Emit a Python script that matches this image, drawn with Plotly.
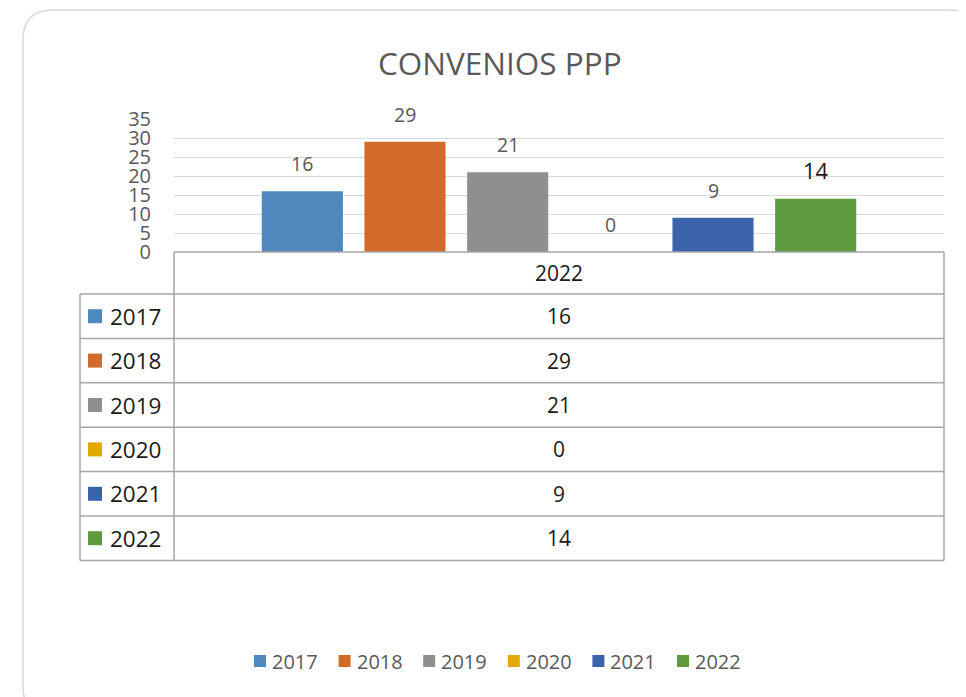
import plotly.graph_objects as go

# ---- data ----
CATEGORY = "2022"
YEARS = ["2017", "2018", "2019", "2020", "2021", "2022"]
VALUES = [16, 29, 21, 0, 9, 14]
COLORS = ["#4f88bd", "#d26b2a", "#8f8f8f", "#e2a900", "#3b63ab", "#5f9a3e"]
TITLE = "CONVENIOS PPP"

# the page body has an 8px margin: figure sized to fit the 966x697 window
OFF = 8
W, H = 966 - OFF, 697 - OFF
FONT = "Open Sans"

def px(x):  # window pixel -> paper
    return (x - OFF) / W

def py(y):
    return 1 - (y - OFF) / H

# plot area in window pixels
PL, PR, PT, PB = 174, 944, 119, 252
BARGAP, BARGROUPGAP = 0.2, 0.21

fig = go.Figure()
for yr, v, c in zip(YEARS, VALUES, COLORS):
    fig.add_trace(go.Bar(x=[CATEGORY], y=[v], name=yr, marker=dict(color=c, line=dict(width=0)),
                         hoverinfo="name+y", showlegend=False))

shapes = []
annotations = []

# outer rounded border
x0, y0, x1, y1, r = 23, 10, 980, 716, 30
path = (f"M {px(x0)},{py(y0 + r)} Q {px(x0)},{py(y0)} {px(x0 + r)},{py(y0)} "
        f"L {px(x1 - r)},{py(y0)} Q {px(x1)},{py(y0)} {px(x1)},{py(y0 + r)} "
        f"L {px(x1)},{py(y1 - r)} Q {px(x1)},{py(y1)} {px(x1 - r)},{py(y1)} "
        f"L {px(x0 + r)},{py(y1)} Q {px(x0)},{py(y1)} {px(x0)},{py(y1 - r)} Z")
shapes.append(dict(type="path", xref="paper", yref="paper", path=path,
                   line=dict(color="#d9d9d9", width=1.5), fillcolor="rgba(0,0,0,0)", layer="below"))

# bar value labels (x given as category index 0)
slot = (PR - PL) * (1 - BARGAP) / len(YEARS)
for i, (yr, v) in enumerate(zip(YEARS, VALUES)):
    big = (yr == "2022")
    annotations.append(dict(x=0, y=v, xref="x", yref="y", text=str(v), showarrow=False,
                            xshift=(i - (len(YEARS) - 1) / 2) * slot, yanchor="bottom", yshift=12,
                            font=dict(family=FONT, size=22 if big else 19.5,
                                      color="#1a1a1a" if big else "#595959")))

# data table
LINE = dict(color="#a6a6a6", width=1.5)
TL, TC, TR = 80, 174, 944
HEAD_T, HEAD_B = 252, 294
ROW_H = 44.4
n = len(YEARS)
bottom = HEAD_B + n * ROW_H
def hline(xa, xb, y):
    shapes.append(dict(type="line", xref="paper", yref="paper", x0=px(xa), x1=px(xb), y0=py(y), y1=py(y), line=LINE))
def vline(x, ya, yb):
    shapes.append(dict(type="line", xref="paper", yref="paper", x0=px(x), x1=px(x), y0=py(ya), y1=py(yb), line=LINE))

hline(TC, TR, HEAD_T)
for k in range(n + 1):
    hline(TL, TR, HEAD_B + k * ROW_H)
vline(TL, HEAD_B, bottom)
vline(TC, HEAD_T, bottom)
vline(TR, HEAD_T, bottom)

annotations.append(dict(x=px((TC + TR) / 2), y=py((HEAD_T + HEAD_B) / 2), xref="paper", yref="paper",
                        text=CATEGORY, showarrow=False, xanchor="center", yanchor="middle",
                        font=dict(family=FONT, size=21, color="#1a1a1a")))
for k, (yr, v, c) in enumerate(zip(YEARS, VALUES, COLORS)):
    cy = HEAD_B + (k + 0.5) * ROW_H
    shapes.append(dict(type="rect", xref="paper", yref="paper", x0=px(88), x1=px(102),
                       y0=py(cy - 7), y1=py(cy + 7), fillcolor=c, line=dict(width=0)))
    annotations.append(dict(x=px(108), y=py(cy), xref="paper", yref="paper", text=yr, showarrow=False,
                            xanchor="left", yanchor="middle", font=dict(family=FONT, size=22.5, color="#1a1a1a")))
    annotations.append(dict(x=px((TC + TR) / 2), y=py(cy), xref="paper", yref="paper", text=str(v),
                            showarrow=False, xanchor="center", yanchor="middle",
                            font=dict(family=FONT, size=21, color="#1a1a1a")))

# bottom legend (Excel-style: square key followed closely by the label)
LEG_X, LEG_Y, LEG_STEP, KEY = 254, 661, 84.6, 12
for k, (yr, c) in enumerate(zip(YEARS, COLORS)):
    lx = LEG_X + k * LEG_STEP
    shapes.append(dict(type="rect", xref="paper", yref="paper", x0=px(lx), x1=px(lx + KEY),
                       y0=py(LEG_Y - KEY / 2), y1=py(LEG_Y + KEY / 2), fillcolor=c, line=dict(width=0)))
    annotations.append(dict(x=px(lx + KEY + 4), y=py(LEG_Y), xref="paper", yref="paper", text=yr,
                            showarrow=False, xanchor="left", yanchor="middle",
                            font=dict(family=FONT, size=20, color="#595959")))

# title
annotations.append(dict(x=px(500), y=py(62), xref="paper", yref="paper", text=TITLE, showarrow=False,
                        xanchor="center", yanchor="middle",
                        font=dict(family=FONT, size=31.5, color="#595959")))

fig.update_layout(
    width=W, height=H, margin=dict(l=0, r=0, t=0, b=0, autoexpand=False),
    paper_bgcolor="white", plot_bgcolor="white",
    barmode="group", bargap=BARGAP, bargroupgap=BARGROUPGAP,
    font=dict(family=FONT, color="#595959"),
    showlegend=False,
    xaxis=dict(domain=[px(PL), px(PR)], type="category", range=[-0.5, 0.5], showticklabels=False,
               showgrid=False, showline=False, zeroline=False),
    yaxis=dict(domain=[py(PB), py(PT)], range=[0, 35], dtick=5, tick0=0, showgrid=True,
               gridcolor="#d9d9d9", gridwidth=1.3, zeroline=False, showline=False,
               tickfont=dict(family=FONT, size=20, color="#595959"), ticklabelstandoff=22),
    shapes=shapes, annotations=annotations,
)

fig.write_html("out.html")
